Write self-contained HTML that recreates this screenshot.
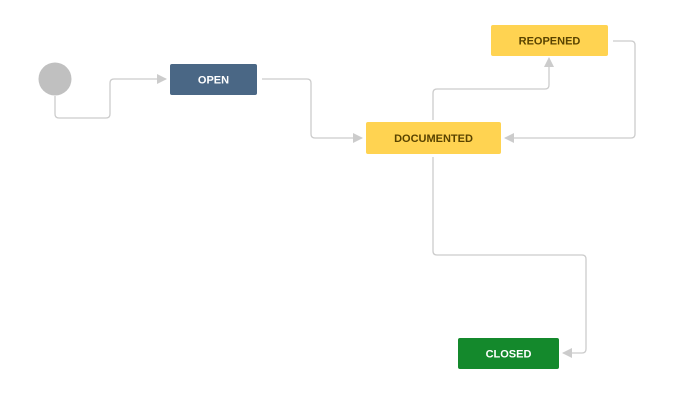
<!DOCTYPE html>
<html><head><style>
html,body{margin:0;padding:0;background:#fff;}
svg{display:block;}
text{font-family:"Liberation Sans",sans-serif;font-size:11px;font-weight:bold;text-anchor:middle;}
</style></head><body>
<svg width="675" height="406" xmlns="http://www.w3.org/2000/svg">
<defs><marker id="a" markerWidth="10" markerHeight="10" refX="9" refY="5" orient="auto" markerUnits="userSpaceOnUse"><path d="M0,0 L10,5 L0,10 z" fill="#cccccc"/></marker></defs>
<g fill="none" stroke="#cccccc" stroke-width="1.3">
<path d="M55,96 V114 Q55,118 59,118 H106 Q110,118 110,114 V83 Q110,79 114,79 H166" marker-end="url(#a)"/>
<path d="M262,79 H307 Q311,79 311,83 V134 Q311,138 315,138 H362" marker-end="url(#a)"/>
<path d="M433,120 V93 Q433,89 437,89 H545 Q549,89 549,85 V58" marker-end="url(#a)"/>
<path d="M613,41 H631 Q635,41 635,45 V134 Q635,138 631,138 H505" marker-end="url(#a)"/>
<path d="M433,157 V251 Q433,255 437,255 H582 Q586,255 586,259 V349 Q586,353 582,353 H563" marker-end="url(#a)"/>
</g>
<circle cx="55" cy="79" r="16.5" fill="#c0c0c0"/>
<rect x="170" y="64" width="87" height="31" rx="2" fill="#4a6785"/>
<text x="213.5" y="83.5" fill="#fff">OPEN</text>
<rect x="366" y="122" width="135" height="32" rx="2" fill="#ffd351"/>
<text x="433.5" y="142" fill="#594300">DOCUMENTED</text>
<rect x="491" y="25" width="117" height="31" rx="2" fill="#ffd351"/>
<text x="549.5" y="44.5" fill="#594300">REOPENED</text>
<rect x="458" y="338" width="101" height="31" rx="2" fill="#14892c"/>
<text x="508.5" y="357.5" fill="#fff">CLOSED</text>
</svg>
</body></html>
